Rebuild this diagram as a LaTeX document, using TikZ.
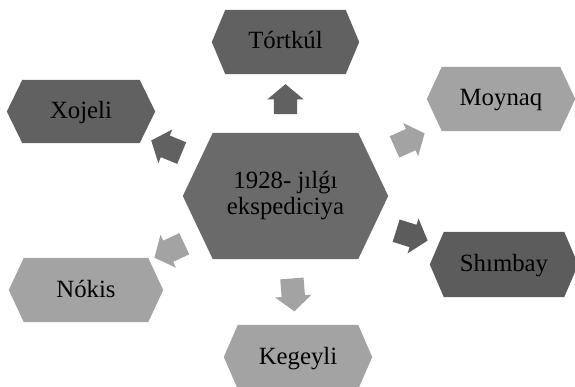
\documentclass[tikz,border=0pt]{standalone}
\usepackage{fontspec}
\setmainfont{Liberation Serif}
\usetikzlibrary{shapes.arrows,backgrounds}
\definecolor{hexdark}{HTML}{616161}
\definecolor{hexdeep}{HTML}{5C5C5C}
\definecolor{hexmid}{HTML}{6A6A6A}
\definecolor{hexlight}{HTML}{A3A3A3}
\tikzset{
  place/.style={inner sep=0pt, text=black, font=\fontsize{24.8}{26}\selectfont,
    minimum width=148pt, minimum height=64pt},
  oneline/.style={place, text height=18pt, text depth=4pt},
  blockarrow/.style={single arrow, draw=none, inner xsep=0pt, inner ysep=11.5pt,
    minimum width=36pt, single arrow head extend=6.5pt, single arrow tip angle=100,
    sloped, allow upside down, minimum height=33pt},
}
% hexagon behind a place node: name, colour, inset of the pointed ends
\newcommand\hexfill[3]{%
  \fill[#2] (#1.west) -- ([xshift=#3]#1.north west) -- ([xshift=-#3]#1.north east)
    -- (#1.east) -- ([xshift=-#3]#1.south east) -- ([xshift=#3]#1.south west) -- cycle;}
\begin{document}
\begin{tikzpicture}[x=1pt,y=-1pt]
\useasboundingbox (0,0) rectangle (575,387);

% places
\node[place, minimum width=205pt, minimum height=126pt, align=center] (c) at (285.5,196)
  {1928- jılǵı\\ekspediciya};
\node[oneline, minimum width=147pt] (t) at (285.5,42) {Tórtkúl};
\node[oneline, minimum height=63pt] (x) at (81,111.5) {Xojeli};
\node[oneline] (m) at (501,99) {Moynaq};
\node[oneline, minimum height=65pt] (s) at (504,264.5) {Shımbay};
\node[oneline, minimum width=154pt] (n) at (86,290) {Nókis};
\node[oneline] (k) at (298,357) {Kegeyli};

\begin{pgfonlayer}{background}
  \hexfill{c}{hexmid}{30pt}
  \hexfill{t}{hexdark}{13.5pt}
  \hexfill{x}{hexdark}{15.5pt}
  \hexfill{m}{hexlight}{15pt}
  \hexfill{s}{hexdeep}{14pt}
  \hexfill{n}{hexlight}{15pt}
  \hexfill{k}{hexlight}{14pt}
\end{pgfonlayer}

% arrows from the centre towards each place
\path (c.center) -- node[blockarrow, fill=hexdark, pos=0.597, minimum height=30pt] (at) {} (t.center);
\path (c.center) -- node[blockarrow, fill=hexdark, pos=0.56] (ax) {} (x.center);
\path (c.center) -- node[blockarrow, fill=hexlight, pos=0.555] (am) {} (m.center);
\path (c.center) -- node[blockarrow, fill=hexdeep, pos=0.557] (as) {} (s.center);
\path (c.center) -- node[blockarrow, fill=hexlight, pos=0.56] (an) {} (n.center);
\path (c.center) -- node[blockarrow, fill=hexlight, pos=0.584] (ak) {} (k.center);
\end{tikzpicture}
\end{document}
